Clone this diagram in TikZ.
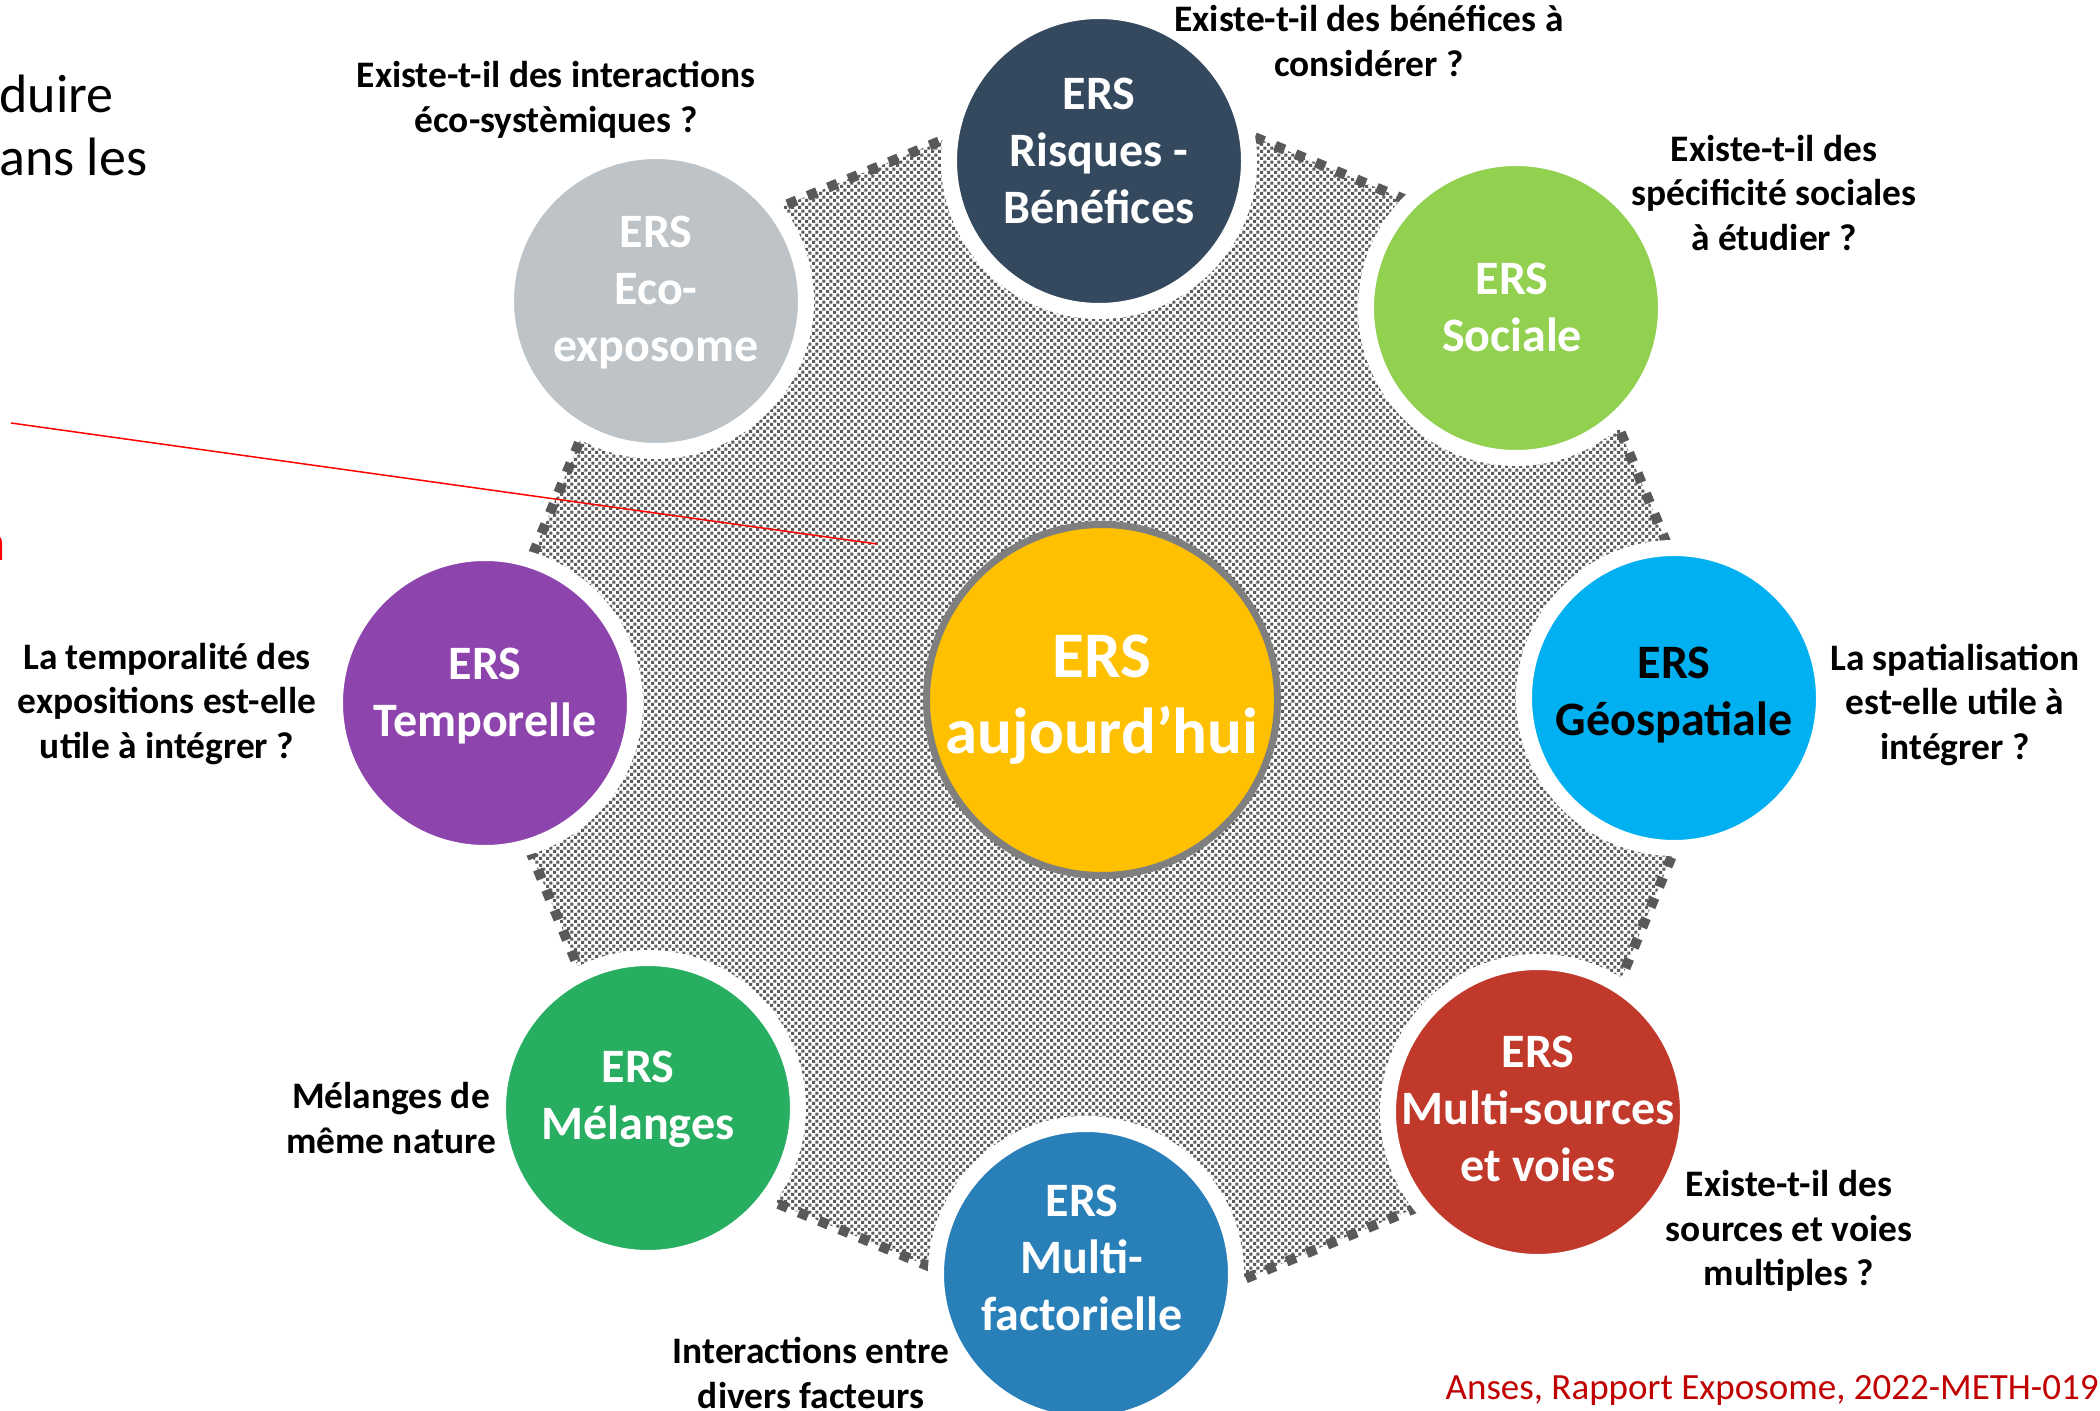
\documentclass[tikz,border=0pt]{standalone}
\usepackage{fontspec}
\setmainfont{Carlito}
\usetikzlibrary{patterns}
\pgfdeclarepatternformonly{ckr}{\pgfpointorigin}{\pgfqpoint{3.4pt}{3.4pt}}{\pgfqpoint{3.4pt}{3.4pt}}{%
  \pgfpathrectangle{\pgfpointorigin}{\pgfqpoint{1.6pt}{1.6pt}}%
  \pgfpathrectangle{\pgfqpoint{1.7pt}{1.7pt}}{\pgfqpoint{1.6pt}{1.6pt}}%
  \pgfusepath{fill}}
\definecolor{navy}{HTML}{34495E}
\definecolor{lgreen}{HTML}{92D050}
\definecolor{cyanb}{HTML}{00B0F0}
\definecolor{redb}{HTML}{C0392B}
\definecolor{blueb}{HTML}{2980B9}
\definecolor{greenb}{HTML}{27AE60}
\definecolor{purpleb}{HTML}{8E44AD}
\definecolor{greyb}{HTML}{BDC3C7}
\definecolor{amber}{HTML}{FFC000}
\definecolor{ringgray}{HTML}{7F7F7F}
\definecolor{patgray}{HTML}{5C5C5C}
\definecolor{dotgray}{HTML}{595959}
\definecolor{citered}{HTML}{C00000}
\begin{document}
\begin{tikzpicture}[x=0.5pt,y=-0.5pt,
  ersc/.style={circle, draw=white, line width=8pt, minimum size=150pt, inner sep=0pt},
  ctext/.style={font=\bfseries\fontsize{24}{28.5}\selectfont, text=white, align=center, inner sep=0pt},
  qtext/.style={font=\bfseries\fontsize{18.7}{22.4}\selectfont, align=center, inner sep=0pt},
  dotborder/.style={draw=dotgray, line width=5pt, dash pattern=on 5pt off 6pt},
  bigtext/.style={font=\fontsize{27}{31.5}\selectfont, inner sep=0pt}]
\useasboundingbox (0,0) rectangle (2100,1411);
\clip (0,0) rectangle (2100,1411);
% octagon
\coordinate (o1) at (1734,706);
\coordinate (o2) at (1548.9,259.1);
\coordinate (o3) at (1102,74);
\coordinate (o4) at (655.1,259.1);
\coordinate (o5) at (470,706);
\coordinate (o6) at (655.1,1152.9);
\coordinate (o7) at (1102,1338);
\coordinate (o8) at (1548.9,1152.9);
\path[pattern=ckr, pattern color=patgray] (o1) -- (o2) -- (o3) -- (o4) -- (o5) -- (o6) -- (o7) -- (o8) -- cycle;
\draw[dotborder] (o1) -- (o2) -- (o3) -- (o4) -- (o5) -- (o6) -- (o7) -- (o8) -- cycle;
% circles
\node[ersc, fill=navy] (risq) at (1099,161) {};
\node[ersc, fill=lgreen] (soc) at (1516,308) {};
\node[ersc, fill=cyanb] (geo) at (1674,698) {};
\node[ersc, fill=redb] (msrc) at (1538,1112) {};
\node[ersc, fill=blueb] (mfac) at (1086,1274) {};
\node[ersc, fill=greenb] (mel) at (648,1108) {};
\node[ersc, fill=purpleb] (temp) at (485,703) {};
\node[ersc, fill=greyb] (eco) at (656,301) {};
\node[circle, fill=amber, draw=ringgray, line width=3.5pt, minimum size=175.5pt, inner sep=0pt] (ctr) at (1102,700) {};
% circle texts
\node[ctext] (trisq) at ([yshift=5pt]risq.center) {ERS\\Risques -\\Bénéfices};
\node[ctext] (tsoc) at ([xshift=-2pt,yshift=0.5pt]soc.center) {ERS\\Sociale};
\node[ctext, text=black] (tgeo) at ([yshift=1.5pt]geo.center) {ERS\\Géospatiale};
\node[ctext] (tmsrc) at ([yshift=1.5pt]msrc.center) {ERS\\Multi-sources\\et voies};
\node[ctext] (tmfac) at ([xshift=-2pt,yshift=8pt]mfac.center) {ERS\\Multi-\\factorielle};
\node[ctext] (tmel) at ([xshift=-5pt,yshift=4.5pt]mel.center) {ERS\\Mélanges};
\node[ctext] (ttemp) at ([yshift=3.5pt]temp.center) {ERS\\Temporelle};
\node[ctext] (teco) at ([yshift=4pt]eco.center) {ERS\\Eco-\\exposome};
\node[ctext, font=\bfseries\fontsize{32.5}{38}\selectfont] (tctr) at (ctr.center) {ERS\\aujourd’hui};
% questions
\node[qtext] (qeco) at (556,100) {Existe-t-il des interactions\\éco-systèmiques ?};
\node[qtext] (qrisq) at (1369,41) {Existe-t-il des bénéfices à\\considérer ?};
\node[qtext] (qsoc) at (1774,193) {Existe-t-il des\\spécificité sociales\\à étudier ?};
\node[qtext] (qgeo) at (1955,705) {La spatialisation\\est-elle utile à\\intégrer ?};
\node[qtext] (qtemp) at (167,704) {La temporalité des\\expositions est-elle\\utile à intégrer ?};
\node[qtext] (qmel) at (391,1118) {Mélanges de\\même nature};
\node[qtext] (qmfac) at (811,1373) {Interactions entre\\divers facteurs};
\node[qtext] (qmsrc) at (1789,1231) {Existe-t-il des\\sources et voies\\multiples ?};
% other texts
\node[bigtext, anchor=west, align=left] (tl) at (-1,125) {duire\\ans les};
\node[bigtext, anchor=east, text=red] (rn) at (6,547) {n};
\node[anchor=east, text=citered, font=\fontsize{18.5}{22}\selectfont, inner sep=0pt] (cite) at (2099,1390) {Anses, Rapport Exposome, 2022-METH-019};
\coordinate (rl1) at (11,423);
\coordinate (rl2) at (877,544);
\draw[red, line width=0.75pt] (rl1) -- (rl2);
\end{tikzpicture}
\end{document}
